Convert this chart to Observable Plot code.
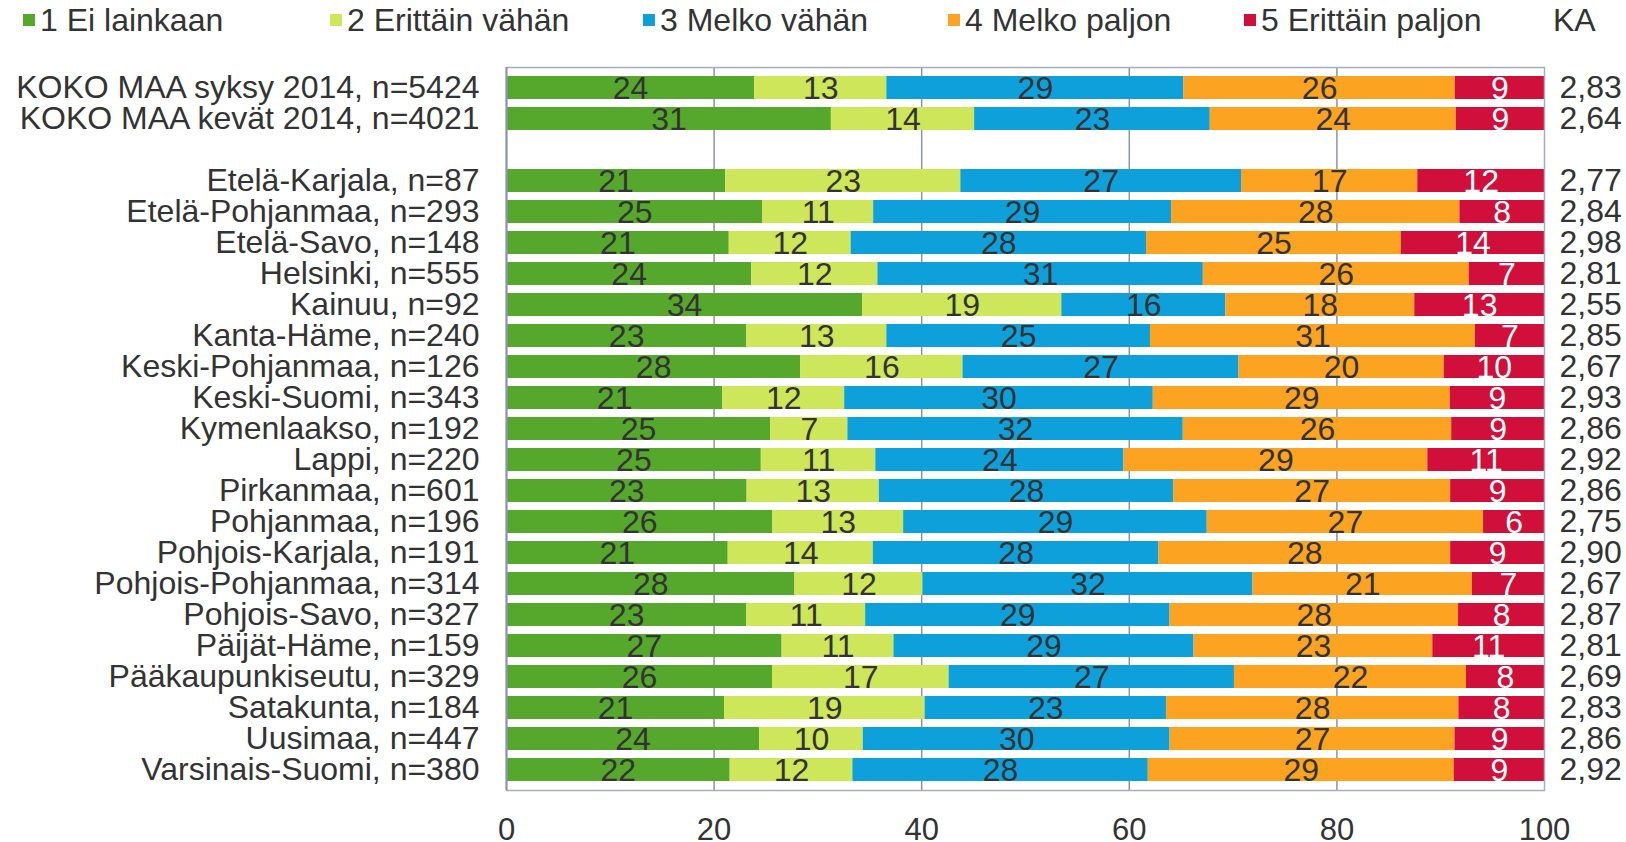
<!DOCTYPE html>
<html>
<head>
<meta charset="utf-8">
<script src="https://cdn.jsdelivr.net/npm/d3@7"></script>
<script src="https://cdn.jsdelivr.net/npm/@observablehq/plot@0.6"></script>
<style>
  html, body { margin: 0; padding: 0; background: #fff; }
  body { width: 1626px; height: 842px; overflow: hidden; font-family: "Liberation Sans", Arial, sans-serif; color: #333; }
  #legend { position: relative; height: 40px; width: 1626px; font-size: 32px; }
  .item { position: absolute; top: 0; height: 40px; display: flex; align-items: center; white-space: nowrap; }
  .sw { width: 12px; height: 12px; margin-right: 5px; }
  #chart svg { display: block; }
</style>
</head>
<body>
<div id="legend"></div>
<div id="chart"></div>
<script>
const categories = [
  "KOKO MAA syksy 2014, n=5424", "KOKO MAA kevät 2014, n=4021",
  "Etelä-Karjala, n=87", "Etelä-Pohjanmaa, n=293", "Etelä-Savo, n=148",
  "Helsinki, n=555", "Kainuu, n=92", "Kanta-Häme, n=240", "Keski-Pohjanmaa, n=126",
  "Keski-Suomi, n=343", "Kymenlaakso, n=192", "Lappi, n=220", "Pirkanmaa, n=601",
  "Pohjanmaa, n=196", "Pohjois-Karjala, n=191", "Pohjois-Pohjanmaa, n=314",
  "Pohjois-Savo, n=327", "Päijät-Häme, n=159", "Pääkaupunkiseutu, n=329",
  "Satakunta, n=184", "Uusimaa, n=447", "Varsinais-Suomi, n=380"
];
const seriesNames = ["1 Ei lainkaan", "2 Erittäin vähän", "3 Melko vähän", "4 Melko paljon", "5 Erittäin paljon"];
const seriesColors = ["#56a82c", "#cde65a", "#0ea0db", "#fca321", "#d0103b"];

const eiLainkaan = [23.90, 31.3, 21.11, 24.70, 21.46, 23.63, 34.3, 23.15, 28.35, 20.84, 25.45, 24.55, 23.18, 25.66, 21.36, 27.79, 23.15, 26.55, 25.63, 21.01, 24.39, 21.55];
const erittainVahan = [12.74, 13.8, 22.66, 10.67, 11.74, 12.15, 19.2, 13.49, 15.63, 11.74, 7.44, 11.03, 12.74, 12.60, 13.98, 12.33, 11.45, 10.78, 17.01, 19.32, 9.98, 11.82];
const melkoVahan = [28.63, 22.7, 27.04, 28.70, 28.46, 31.35, 15.8, 25.4, 26.59, 29.73, 32.31, 23.91, 28.35, 29.25, 27.52, 31.80, 29.33, 28.91, 27.49, 23.25, 29.56, 28.46];
const melkoPaljon = [26.14, 23.7, 16.98, 27.78, 24.55, 25.62, 18.2, 31.3, 19.77, 28.62, 25.86, 29.27, 26.69, 26.62, 28.10, 21.14, 27.79, 23.00, 22.35, 28.17, 27.45, 29.47];
const erittainPaljon = [8.59, 8.5, 12.21, 8.15, 13.79, 7.25, 12.5, 6.66, 9.66, 9.07, 8.94, 11.24, 9.04, 5.87, 9.04, 6.94, 8.28, 10.76, 7.52, 8.25, 8.62, 8.70];
const ka = [2.83, 2.64, 2.77, 2.84, 2.98, 2.81, 2.55, 2.85, 2.67, 2.93, 2.86, 2.92, 2.86, 2.75, 2.90, 2.67, 2.87, 2.81, 2.69, 2.83, 2.86, 2.92];
const kaTitle = "KA";
const xTicks = [0, 20, 40, 60, 80, 100];
const gridTicks = [20, 40, 60, 80];

const seriesValues = [eiLainkaan, erittainVahan, melkoVahan, melkoPaljon, erittainPaljon];
const SPACER = " ";
const yDomain = [categories[0], categories[1], SPACER, ...categories.slice(2)];

const rows = [];
categories.forEach((c, i) => {
  seriesNames.forEach((s, j) => rows.push({cat: c, series: s, value: seriesValues[j][i]}));
});
const kaRows = categories.map((c, i) => ({cat: c, ka: ka[i]}));

// Legend
const legendLefts = [23, 330, 643, 948, 1244];
const legend = document.getElementById("legend");
seriesNames.forEach((s, j) => {
  const it = document.createElement("div");
  it.className = "item";
  it.style.left = legendLefts[j] + "px";
  const sw = document.createElement("span");
  sw.className = "sw";
  sw.style.background = seriesColors[j];
  it.appendChild(sw);
  it.appendChild(document.createTextNode(s));
  legend.appendChild(it);
});
const kaEl = document.createElement("div");
kaEl.className = "item";
kaEl.style.left = "1553px";
kaEl.textContent = kaTitle;
legend.appendChild(kaEl);

const fmt = v => v.toFixed(2).replace(".", ",");

const chart = Plot.plot({
  width: 1626,
  height: 802,
  marginLeft: 506,
  marginRight: 82,
  marginTop: 27,
  marginBottom: 52,
  style: {fontFamily: "'Liberation Sans', Arial, sans-serif", color: "#333", background: "#fff"},
  x: {domain: [0, 100], axis: null, label: null},
  y: {domain: yDomain, paddingInner: 0.26, paddingOuter: 0.13, axis: null, label: null},
  color: {domain: seriesNames, range: seriesColors},
  marks: [
    Plot.ruleX(gridTicks, {stroke: "#8c90b6", strokeWidth: 1.5}),
    Plot.barX(rows, {x: "value", y: "cat", fill: "series"}),
    Plot.text(rows, Plot.stackX({
      x: "value", y: "cat",
      text: d => String(Math.round(d.value)),
      fill: d => d.series === seriesNames[4] ? "#ffffff" : "#333333",
      fontSize: 32, dy: 1
    })),
    Plot.frame({stroke: "#a9abbf", strokeWidth: 1.5}),
    Plot.ruleX([0], {stroke: "#8c90b6", strokeWidth: 2}),
    Plot.axisY({tickSize: 0, tickPadding: 27, fontSize: 32, label: null, tickFormat: d => d === SPACER ? "" : d}),
    Plot.axisX(xTicks, {tickSize: 0, tickPadding: 27, fontSize: 31, label: null}),
    Plot.text(kaRows, {x: () => 100, y: "cat", text: d => fmt(d.ka), textAnchor: "start", dx: 15, fontSize: 32, fill: "#333"})
  ]
});
document.getElementById("chart").appendChild(chart);
</script>
</body>
</html>
